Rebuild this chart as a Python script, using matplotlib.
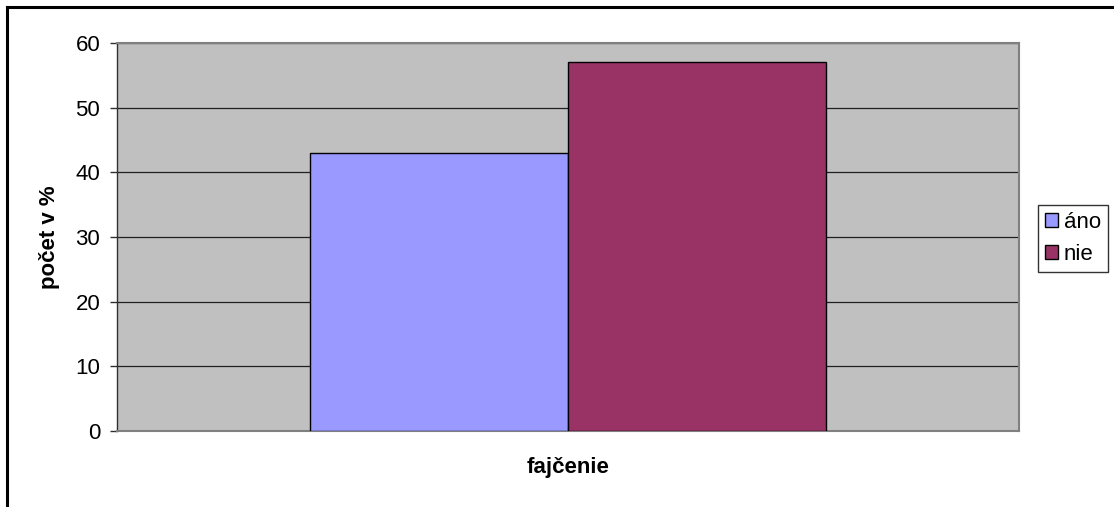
import matplotlib
matplotlib.use('Agg')
import matplotlib.pyplot as plt
from matplotlib.patches import Patch

plt.rcParams['font.family'] = ['Liberation Sans', 'DejaVu Sans']

series_names = ['áno', 'nie']
series_values = [43, 57]
series_colors = ['#9999FF', '#993366']
y_ticks = [0, 10, 20, 30, 40, 50, 60]

fig = plt.figure(figsize=(11.14, 5.07), dpi=100)
ax = fig.add_axes([0.105, 0.150, 0.8097, 0.7653])
ax.set_facecolor('#C0C0C0')

positions = [-0.5, 0.5]
for pos, val, col in zip(positions, series_values, series_colors):
    ax.bar(pos, val, width=1.0, color=col, edgecolor='black', linewidth=1.0, zorder=3)

ax.set_xlim(-1.75, 1.75)
ax.set_ylim(0, 60)
ax.set_yticks(y_ticks)
ax.set_xticks([])
ax.yaxis.grid(True, color='#202020', linewidth=0.9, zorder=1)
ax.set_axisbelow(True)

for side in ['top', 'right', 'bottom']:
    ax.spines[side].set_color('#808080')
    ax.spines[side].set_linewidth(1.5)
ax.spines['left'].set_color('#303030')
ax.spines['left'].set_linewidth(1.0)

ax.tick_params(axis='y', direction='out', length=5, width=1.0, color='#303030',
               labelsize=16, pad=7)

ax.set_ylabel('počet v %', fontsize=16, fontweight='bold', labelpad=11)
ax.set_xlabel('fajčenie', fontsize=16, fontweight='bold', labelpad=19)

handles = [Patch(facecolor=c, edgecolor='black', linewidth=1.0) for c in series_colors]
leg = fig.legend(handles, series_names, loc='center left', bbox_to_anchor=(0.932, 0.53),
                 fontsize=16, frameon=True, fancybox=False, edgecolor='black',
                 handlelength=0.6, handleheight=0.6, handletextpad=0.25,
                 borderpad=0.3, labelspacing=0.5, borderaxespad=0)
leg.get_frame().set_linewidth(1.0)

# outer chart border (top and left visible)
fig.add_artist(plt.Line2D([0.0063, 1.0], [0.9871, 0.9871], color='black', linewidth=2.2,
                          transform=fig.transFigure))
fig.add_artist(plt.Line2D([0.0063, 0.0063], [0.0, 0.9871], color='black', linewidth=2.2,
                          transform=fig.transFigure))

fig.savefig('out.png', dpi=100)
